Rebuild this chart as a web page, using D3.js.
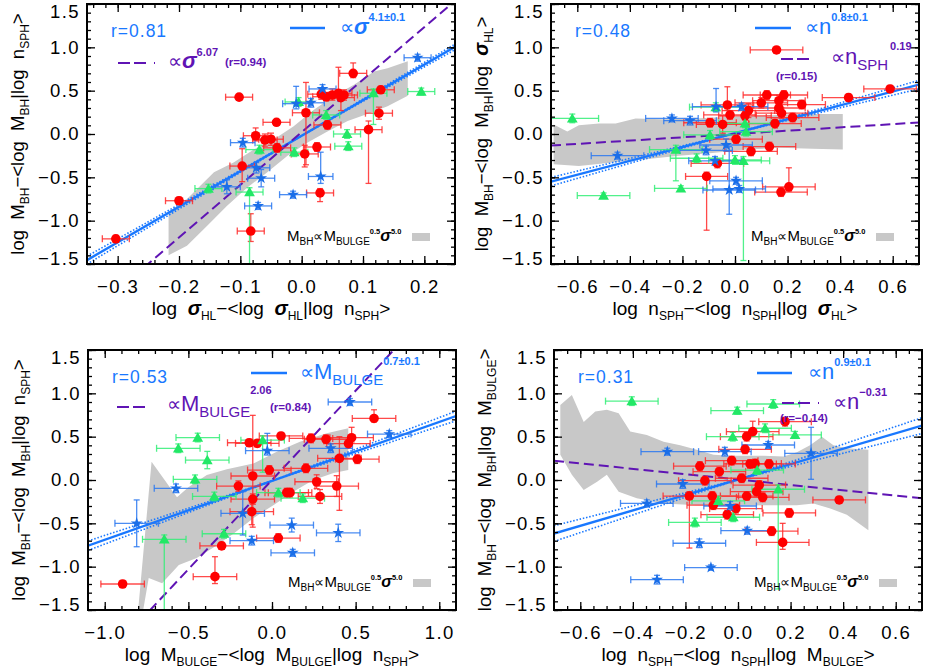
<!DOCTYPE html>
<html><head><meta charset="utf-8">
<script src="https://cdn.jsdelivr.net/npm/d3@7"></script>
<style>body{margin:0;background:#fff}svg{display:block}</style>
</head><body><svg id="c" width="926" height="670"></svg>
<script>
// ---------------- DATA ----------------
// points: [x, y, xErr, yErrLow, yErrHigh]
const p1Red = [
[-0.303,-1.21,0.022,0.04,0.04],[-0.200,-0.77,0.022,0.04,0.04],[-0.102,0.425,0.022,0.03,0.03],
[-0.041,0.135,0.022,0.03,0.03],[-0.075,-0.02,0.020,0.06,0.09],[-0.060,-0.07,0.020,0.07,0.07],
[-0.050,-0.06,0.020,0.07,0.07],[-0.040,-0.16,0.022,0.05,0.05],[-0.097,-0.37,0.020,0.18,0.20],
[-0.083,-1.12,0.022,0.12,0.20],[0.007,0.245,0.022,0.60,0.35],[0.005,-0.23,0.022,0.15,0.10],
[0.025,-0.15,0.022,0.05,0.05],[0.030,-0.68,0.022,0.10,0.05],[0.042,0.105,0.022,0.05,0.05],
[0.032,0.46,0.022,0.06,0.06],[0.040,0.43,0.022,0.05,0.05],[0.050,0.45,0.022,0.06,0.07],
[0.060,0.47,0.022,0.05,0.30],[0.064,0.42,0.022,0.15,0.07],[0.069,0.45,0.022,0.06,0.06],
[0.084,0.70,0.022,0.05,0.12],[0.129,0.51,0.022,0.04,0.04],[0.126,0.24,0.022,0.07,0.07],
[0.109,0.05,0.022,0.62,0.10]];
const p1Green = [
[-0.152,-0.63,0.022,0.05,0.05],[-0.085,-0.67,0.022,0.90,0.05],[-0.069,-0.18,0.022,0.05,0.05],
[-0.012,-0.21,0.022,0.05,0.05],[-0.005,0.37,0.022,0.05,0.05],[0.040,0.22,0.022,0.05,0.05],
[0.074,0.0,0.022,0.05,0.05],[0.076,-0.14,0.022,0.05,0.05],[0.117,0.47,0.022,0.36,0.05],
[0.195,0.49,0.022,0.04,0.04]];
const p1Blue = [
[-0.122,-0.61,0.022,0.08,0.08],[-0.096,-0.10,0.020,0.05,0.05],[-0.074,-0.39,0.022,0.06,0.06],
[-0.066,-0.51,0.022,0.10,0.10],[-0.071,-0.83,0.022,0.04,0.04],[-0.014,-0.70,0.022,0.04,0.04],
[-0.009,0.35,0.022,0.06,0.20],[0.015,0.36,0.022,0.05,0.05],[0.034,0.52,0.022,0.05,0.05],
[0.031,-0.49,0.020,0.08,0.28],[0.189,0.88,0.022,0.04,0.04]];
const p1BandUpper = [[-0.217,-0.90],[-0.187,-0.75],[-0.143,-0.44],[-0.111,-0.33],[-0.078,-0.18],[-0.045,-0.06],[-0.013,0.09],[0.02,0.28],[0.053,0.44],[0.086,0.57],[0.118,0.72],[0.14,0.76],[0.173,0.84]];
const p1BandLower = [[-0.217,-1.40],[-0.187,-1.29],[-0.154,-1.06],[-0.122,-0.83],[-0.089,-0.62],[-0.056,-0.44],[-0.023,-0.25],[0.009,-0.10],[0.042,0.03],[0.075,0.15],[0.107,0.23],[0.14,0.32],[0.173,0.44]];

const p2Red = [
[0.158,0.97,0.10,0.03,0.03],[0.590,0.52,0.10,0.04,0.04],[0.432,0.42,0.10,0.04,0.04],
[0.121,0.45,0.09,0.05,0.05],[0.186,0.45,0.09,0.05,0.05],[0.167,0.384,0.10,0.06,0.06],
[0.100,0.36,0.10,0.06,0.06],[0.254,0.34,0.09,0.05,0.05],[-0.029,0.335,0.10,0.06,0.21],
[0.167,0.30,0.10,0.06,0.06],[0.177,0.24,0.10,0.06,0.06],[0.051,0.27,0.10,0.08,0.08],
[-0.019,0.22,0.10,0.05,0.05],[0.038,0.21,0.10,0.05,0.05],[0.219,0.19,0.10,0.05,0.05],
[0.152,0.12,0.10,0.05,0.05],[-0.095,0.13,0.10,0.05,0.05],[-0.047,0.11,0.10,0.10,0.10],
[0.004,-0.06,0.10,0.05,0.05],[0.131,-0.145,0.10,0.05,0.05],[0.061,-0.20,0.10,0.05,0.05],
[-0.067,-0.34,0.10,0.05,0.05],[-0.108,-0.49,0.08,0.62,0.05],[0.175,-0.67,0.10,0.05,0.05],
[0.205,-0.61,0.10,0.05,0.22]];
const p2Green = [
[-0.619,0.18,0.10,0.05,0.05],[-0.500,-0.71,0.10,0.03,0.03],[-0.206,-0.627,0.10,0.03,0.03],
[-0.225,-0.18,0.10,0.36,0.05],[-0.146,-0.28,0.10,0.05,0.05],[-0.095,-0.01,0.10,0.05,0.05],
[-0.073,0.31,0.10,0.05,0.05],[0.0,-0.30,0.10,0.05,0.05],[0.038,0.123,0.10,0.05,0.05],
[0.042,0.027,0.10,0.05,0.05],[0.032,-0.31,0.10,1.15,0.05]];
const p2Blue = [
[-0.447,-0.25,0.10,0.04,0.04],[-0.240,0.18,0.10,0.04,0.04],[-0.171,0.154,0.10,0.05,0.05],
[-0.110,-0.19,0.10,0.05,0.05],[-0.076,-0.31,0.10,0.05,0.05],[-0.072,0.315,0.09,0.06,0.21],
[0.025,0.315,0.10,0.04,0.04],[-0.034,-0.127,0.10,0.07,0.07],[-0.022,-0.646,0.10,0.28,0.50],
[0.004,-0.54,0.10,0.04,0.04],[0.016,-0.634,0.10,0.04,0.04]];
const p2BandUpper = [[-0.69,0.11],[-0.638,0.03],[-0.594,0.10],[-0.517,0.12],[-0.454,0.12],[-0.378,0.18],[-0.276,0.17],[-0.149,0.18],[-0.022,0.20],[0.105,0.21],[0.232,0.23],[0.359,0.23],[0.41,0.23]];
const p2BandLower = [[-0.69,-0.35],[-0.594,-0.37],[-0.467,-0.33],[-0.34,-0.29],[-0.213,-0.25],[-0.086,-0.22],[0.041,-0.18],[0.168,-0.16],[0.295,-0.17],[0.41,-0.18]];

const p3Red = [
[-0.893,-1.20,0.13,0.04,0.04],[-0.341,-1.115,0.13,0.08,0.23],[-0.301,-0.76,0.13,0.04,0.04],
[-0.136,0.43,0.13,0.04,0.04],[-0.088,0.423,0.13,0.04,0.04],[0.054,0.508,0.13,0.04,0.04],
[-0.016,0.115,0.13,0.05,0.05],[-0.115,0.046,0.13,0.59,0.70],[-0.201,-0.07,0.13,0.06,0.06],
[-0.115,-0.22,0.13,0.06,0.06],[-0.121,-0.366,0.13,0.15,0.10],[0.038,-0.67,0.13,0.05,0.05],
[0.088,-0.146,0.13,0.05,0.05],[0.108,-0.146,0.13,0.05,0.05],[0.203,0.135,0.13,0.05,0.05],
[0.233,0.48,0.13,0.05,0.05],[0.323,0.47,0.13,0.05,0.05],[0.267,-0.02,0.13,0.08,0.08],
[0.287,-0.19,0.13,0.08,0.08],[0.403,0.25,0.13,0.60,0.25],[0.387,-0.07,0.13,0.12,0.12],
[0.457,0.42,0.13,0.05,0.05],[0.476,0.488,0.13,0.05,0.12],[0.51,0.24,0.13,0.05,0.05],
[0.61,0.71,0.13,0.04,0.10]];
const p3Green = [
[-0.56,0.366,0.13,0.05,0.05],[-0.444,0.49,0.13,0.05,0.05],[-0.387,0.23,0.13,0.10,0.10],
[-0.46,0.008,0.13,0.05,0.05],[-0.345,-0.19,0.13,0.05,0.05],[-0.287,-0.62,0.13,0.05,0.05],
[-0.644,-0.684,0.13,0.90,0.05],[-0.056,0.46,0.13,0.37,0.05],[0.038,-0.146,0.13,0.05,0.05],
[0.184,-0.21,0.13,0.05,0.05]];
const p3Blue = [
[-0.809,-0.50,0.13,0.27,0.27],[-0.574,-0.096,0.13,0.05,0.05],[-0.175,-0.385,0.13,0.25,0.25],
[-0.121,-0.70,0.13,0.05,0.05],[-0.028,0.338,0.13,0.05,0.20],[0.118,-0.52,0.13,0.08,0.08],
[0.124,-0.84,0.13,0.04,0.04],[0.351,0.366,0.13,0.05,0.05],[0.396,-0.61,0.13,0.10,0.10],
[0.466,0.90,0.13,0.04,0.04],[0.701,0.53,0.13,0.04,0.04]];
const p3BandUpper = [[-0.80,-1.5],[-0.72,0.21],[-0.568,-0.20],[-0.5,-0.085],[-0.39,0.058],[-0.27,0.123],[-0.112,0.19],[0.028,0.327],[0.167,0.442],[0.327,0.538],[0.456,0.596]];
const p3BandLower = [[-0.77,-1.5],[-0.737,-1.13],[-0.657,-1.19],[-0.557,-0.98],[-0.45,-0.90],[-0.35,-0.78],[-0.231,-0.62],[-0.112,-0.44],[0.008,-0.29],[0.127,-0.135],[0.247,0.0],[0.368,0.08],[0.456,0.115]];

const p4Red = [
[0.179,0.673,0.10,0.05,0.05],[0.056,0.558,0.10,0.05,0.12],[0.033,0.50,0.10,0.05,0.05],
[0.027,0.354,0.10,0.05,0.05],[-0.145,0.16,0.10,0.05,0.05],[-0.071,0.096,0.10,0.05,0.05],
[-0.024,0.223,0.10,0.05,0.05],[-0.126,-0.008,0.10,0.05,0.05],[0.014,0.02,0.10,0.05,0.05],
[0.046,0.185,0.10,0.05,0.05],[0.065,0.19,0.10,0.05,0.05],[0.118,0.185,0.10,0.05,0.05],
[-0.185,-0.185,0.10,0.60,0.05],[-0.098,-0.185,0.10,0.05,0.05],[-0.094,-0.29,0.10,0.05,0.05],
[-0.041,-0.40,0.10,0.05,0.05],[-0.008,-0.33,0.10,0.05,0.05],[0.033,-0.185,0.10,0.05,0.05],
[0.071,-0.135,0.10,0.05,0.05],[0.081,-0.058,0.10,0.05,0.05],[0.094,-0.20,0.10,0.05,0.05],
[0.128,-0.59,0.10,0.05,0.05],[0.17,-0.72,0.10,0.08,0.22],[0.195,-0.38,0.10,0.05,0.05],
[0.385,-0.23,0.10,0.04,0.04]];
const p4Green = [
[-0.404,0.91,0.10,0.05,0.05],[0.134,0.877,0.10,0.05,0.05],[-0.003,0.80,0.10,0.04,0.04],
[-0.02,0.50,0.10,0.05,0.05],[0.103,0.597,0.10,0.05,0.05],[0.217,0.52,0.10,0.04,0.04],
[0.073,0.115,0.10,0.05,0.05],[0.153,-0.107,0.10,1.15,0.05],[-0.075,-0.24,0.10,0.05,0.05],
[-0.018,-0.43,0.10,0.05,0.05],[-0.164,-0.49,0.10,0.05,0.05]];
const p4Blue = [
[-0.308,-1.15,0.10,0.05,0.05],[-0.103,-1.01,0.10,0.03,0.03],[-0.147,-0.73,0.10,0.05,0.05],
[0.035,-0.585,0.10,0.04,0.04],[-0.03,-0.30,0.10,0.05,0.05],[-0.21,-0.046,0.10,0.05,0.05],
[-0.347,-0.27,0.10,0.04,0.04],[-0.269,0.327,0.10,0.04,0.04],[-0.05,0.327,0.10,0.05,0.05],
[0.115,0.404,0.10,0.04,0.04],[0.278,0.308,0.10,0.30,0.30]];
const p4BandUpper = [[-0.676,0.865],[-0.632,0.98],[-0.587,0.67],[-0.543,0.79],[-0.499,0.81],[-0.454,0.77],[-0.41,0.56],[-0.347,0.52],[-0.283,0.44],[-0.22,0.40],[-0.157,0.35],[-0.093,0.29],[-0.03,0.28],[0.097,0.28],[0.173,0.27],[0.224,0.32],[0.274,0.40],[0.319,0.50],[0.363,0.40],[0.414,0.365],[0.496,0.35]];
const p4BandLower = [[-0.676,0.29],[-0.632,0.06],[-0.587,-0.115],[-0.536,-0.02],[-0.499,0.06],[-0.454,-0.135],[-0.385,-0.21],[-0.283,-0.27],[-0.157,-0.29],[-0.03,-0.30],[0.097,-0.29],[0.224,-0.29],[0.287,-0.27],[0.351,-0.33],[0.414,-0.40],[0.496,-0.58]];

// fits
const fitSlope = [4.1, 0.8, 0.68, 0.89];
const fitIntercept = [-0.02, 0.01, -0.01, 0.005];
const fitSlopeErr = [0.13, 0.07, 0.05, 0.13];
const altSlope = [6.07, 0.19, 2.06, -0.31];
const altIntercept = [0.02, 0.0, 0.0, 0.005];
const rValues = ["r=0.81", "r=0.48", "r=0.53", "r=0.31"];

// axes
const xDomains = [[-0.35,0.25],[-0.7,0.7],[-1.1,1.1],[-0.7,0.7]];
const xMajorTicks = [[-0.3,-0.2,-0.1,0,0.1,0.2],[-0.6,-0.4,-0.2,0,0.2,0.4,0.6],[-1,-0.5,0,0.5,1],[-0.6,-0.4,-0.2,0,0.2,0.4,0.6]];
const xMinorStep = [0.02, 0.05, 0.1, 0.05];
const yDomain = [-1.5, 1.5];
const yMajorTicks = [-1.5,-1,-0.5,0,0.5,1,1.5];

// ---------------- LAYOUT / STYLE ----------------
const panelLeft = [87, 551, 88, 554], panelTop = [4, 4, 350, 350], PW = 368, PH = 260;
const FONT = "'Liberation Sans', Arial, Helvetica, sans-serif";
const BLUE = "rgb(25,120,255)", PURPLE = "rgb(95,20,180)";
const RED = "#ff0000", GREEN = "#22e866", STARBLUE = "#1a6ee8";
const BAND = "#c8c8c8";

const svg = d3.select("#c");
svg.append("rect").attr("width",926).attr("height",670).attr("fill","#fff");

function rich(parent, x, y, parts, fill, extra) {
  const t = parent.append("text").attr("x", x).attr("y", y).attr("fill", fill || "#000")
    .attr("font-family", FONT);
  if (extra) extra(t);
  let cur = 0;
  parts.forEach(p => {
    const off = p.o || 0;
    const ts = t.append("tspan").text(p.t).attr("font-size", p.s).attr("dy", off - cur);
    if (p.i) ts.attr("font-style", "italic");
    if (p.b) ts.attr("font-weight", "bold");
    if (p.dx) ts.attr("dx", p.dx);
    cur = off;
  });
  return t;
}

const yTitles = [
 [["log M",""],["BH","s"],["−<log M",""],["BH","s"],["|log n",""],["SPH","s"],[">",""]],
 [["log M",""],["BH","s"],["−<log M",""],["BH","s"],["|log ",""],["σ","g"],["HL","s"],[">",""]],
 [["log M",""],["BH","s"],["−<log M",""],["BH","s"],["|log n",""],["SPH","s"],[">",""]],
 [["log M",""],["BH","s"],["−<log M",""],["BH","s"],["|log M",""],["BULGE","s"],[">",""]]
];
const xTitles = [
 [["log ",""],["σ","g"],["HL","s"],["−<log ",""],["σ","g"],["HL","s"],["|log n",""],["SPH","s"],[">",""]],
 [["log n",""],["SPH","s"],["−<log n",""],["SPH","s"],["|log ",""],["σ","g"],["HL","s"],[">",""]],
 [["log M",""],["BULGE","s"],["−<log M",""],["BULGE","s"],["|log n",""],["SPH","s"],[">",""]],
 [["log n",""],["SPH","s"],["−<log n",""],["SPH","s"],["|log M",""],["BULGE","s"],[">",""]]
];
function titleParts(arr, sz) {
  return arr.map(([t, k]) => k === "s" ? {t, s: 12, o: 5} : k === "g" ? {t, s: sz + 1, i: true, b: true} : {t: t.replace(/ /g, "\u00a0\u00a0"), s: sz});
}

const groups = [
  [p1Red, p1Green, p1Blue, p1BandUpper, p1BandLower],
  [p2Red, p2Green, p2Blue, p2BandUpper, p2BandLower],
  [p3Red, p3Green, p3Blue, p3BandUpper, p3BandLower],
  [p4Red, p4Green, p4Blue, p4BandUpper, p4BandLower]
];

groups.forEach((grp, i) => {
  const [red, green, blue, bu, bl] = grp;
  const L = panelLeft[i], T = panelTop[i];
  const g = svg.append("g").attr("transform", `translate(${L},${T})`);
  const x = d3.scaleLinear().domain(xDomains[i]).range([0, PW]);
  const y = d3.scaleLinear().domain(yDomain).range([PH, 0]);

  svg.append("clipPath").attr("id", "clip" + i).append("rect").attr("width", PW).attr("height", PH);
  const plot = g.append("g").attr("clip-path", `url(#clip${i})`);

  // band
  const poly = bu.concat(bl.slice().reverse());
  plot.append("path").attr("d", d3.line().x(d => x(d[0])).y(d => y(d[1]))(poly) + "Z")
    .attr("fill", BAND).attr("stroke", "none");

  // fit lines
  const xs = xDomains[i];
  const line = d3.line().x(d => x(d[0])).y(d => y(d[1]));
  [fitSlope[i] - fitSlopeErr[i], fitSlope[i] + fitSlopeErr[i]].forEach(s => {
    plot.append("path").attr("d", line(xs.map(v => [v, s * v + fitIntercept[i]])))
      .attr("stroke", BLUE).attr("stroke-width", 1.6).attr("stroke-dasharray", "1.5,1.8").attr("fill", "none");
  });
  plot.append("path").attr("d", line(xs.map(v => [v, fitSlope[i] * v + fitIntercept[i]])))
    .attr("stroke", BLUE).attr("stroke-width", 2.4).attr("fill", "none");
  plot.append("path").attr("d", line(xs.map(v => [v, altSlope[i] * v + altIntercept[i]])))
    .attr("stroke", PURPLE).attr("stroke-width", 2).attr("stroke-dasharray", "10,5").attr("fill", "none");

  // error bars + markers
  const sets = [
    {d: red, c: "#ff2a2a", sym: "circle", fill: RED},
    {d: green, c: "#33ee77", sym: d3.symbolTriangle, fill: GREEN},
    {d: blue, c: "#2a78f0", sym: d3.symbolStar, fill: STARBLUE}
  ];
  sets.forEach(st => {
    const eg = plot.append("g").attr("stroke", st.c).attr("stroke-width", 1.3).attr("stroke-opacity", 0.85).attr("fill", "none");
    st.d.forEach(p => {
      const [px, py, ex, el, eh] = p;
      const cx = x(px), cy = y(py);
      const x0 = x(px - ex), x1 = x(px + ex), y0 = y(py - el), y1 = y(py + eh);
      eg.append("line").attr("x1", x0).attr("x2", x1).attr("y1", cy).attr("y2", cy);
      eg.append("line").attr("x1", x0).attr("x2", x0).attr("y1", cy - 3.5).attr("y2", cy + 3.5);
      eg.append("line").attr("x1", x1).attr("x2", x1).attr("y1", cy - 3.5).attr("y2", cy + 3.5);
      eg.append("line").attr("x1", cx).attr("x2", cx).attr("y1", y0).attr("y2", y1);
      eg.append("line").attr("x1", cx - 3).attr("x2", cx + 3).attr("y1", y0).attr("y2", y0);
      eg.append("line").attr("x1", cx - 3).attr("x2", cx + 3).attr("y1", y1).attr("y2", y1);
    });
  });
  sets.forEach(st => {
    st.d.forEach(p => {
      const cx = x(p[0]), cy = y(p[1]);
      if (st.sym === "circle") {
        plot.append("circle").attr("cx", cx).attr("cy", cy).attr("r", 4.8).attr("fill", st.fill);
      } else {
        const sz = st.sym === d3.symbolStar ? 44 : 50;
        plot.append("path").attr("d", d3.symbol().type(st.sym).size(sz)())
          .attr("transform", `translate(${cx},${cy + (st.sym === d3.symbolTriangle ? 1 : 0)})`).attr("fill", st.fill);
      }
    });
  });

  // axes
  const fmt = d3.format(".1f");
  const xMinor = d3.range(xDomains[i][0], xDomains[i][1] + 1e-9, xMinorStep[i]).map(v => Math.round(v / xMinorStep[i]) * xMinorStep[i]).filter(v => v > xDomains[i][0] + 1e-9 && v < xDomains[i][1] - 1e-9);
  const yMinor = d3.range(-1.5, 1.5001, 0.1).map(v => Math.round(v * 10) / 10);
  const styleAx = a => { a.select(".domain").remove(); a.selectAll("line").attr("stroke", "#000").attr("stroke-width", 1.3); a.selectAll("text").attr("font-family", FONT).attr("font-size", 18.5).attr("letter-spacing", 1.4).attr("fill", "#000"); };

  g.append("g").attr("transform", `translate(0,${PH})`).call(d3.axisBottom(x).tickValues(xMinor).tickSize(-4).tickFormat("")).call(styleAx);
  g.append("g").call(d3.axisTop(x).tickValues(xMinor).tickSize(-4).tickFormat("")).call(styleAx);
  g.append("g").attr("transform", `translate(0,${PH})`).call(d3.axisBottom(x).tickValues(xMajorTicks[i]).tickSize(-8).tickPadding(16).tickFormat(fmt)).call(styleAx);
  g.append("g").call(d3.axisTop(x).tickValues(xMajorTicks[i]).tickSize(-8).tickFormat("")).call(styleAx);
  g.append("g").call(d3.axisLeft(y).tickValues(yMinor).tickSize(-4).tickFormat("")).call(styleAx);
  g.append("g").attr("transform", `translate(${PW},0)`).call(d3.axisRight(y).tickValues(yMinor).tickSize(-4).tickFormat("")).call(styleAx);
  const yl = g.append("g").call(d3.axisLeft(y).tickValues(yMajorTicks).tickSize(-8).tickPadding(7).tickFormat(fmt)).call(styleAx);
  yl.selectAll(".tick text").filter(d => d === 1.5).attr("transform", "translate(0,8)");
  yl.selectAll(".tick text").filter(d => d === -1.5).attr("transform", "translate(0,-5)");
  g.append("g").attr("transform", `translate(${PW},0)`).call(d3.axisRight(y).tickValues(yMajorTicks).tickSize(-8).tickFormat("")).call(styleAx);

  g.append("rect").attr("width", PW).attr("height", PH).attr("fill", "none").attr("stroke", "#000").attr("stroke-width", 2);

  // titles
  rich(g, PW / 2, PH + 51, titleParts(xTitles[i], 19), "#000", t => t.attr("text-anchor", "middle"));
  rich(g, 0, 0, titleParts(yTitles[i], 18.5), "#000", t => t.attr("text-anchor", "middle").attr("transform", `translate(-63,${PH / 2}) rotate(-90)`));

  // legend: r value
  g.append("text").attr("x", 24).attr("y", 33).attr("fill", BLUE).attr("font-family", FONT).attr("font-size", 17.5).attr("letter-spacing", 1).text(rValues[i]);

  // gray band legend
  rich(g, 200, 237, [{t:"M",s:15},{t:"BH",s:10,o:4},{t:"∝",s:14,o:0},{t:"M",s:15},{t:"BULGE",s:10,o:4},{t:"0.5",s:7.5,b:true,o:-7},{t:"σ",s:16,i:true,b:true,o:0},{t:"5.0",s:7.5,b:true,o:-7}], "#000");
  g.append("rect").attr("x", 325).attr("y", 229).attr("width", 18).attr("height", 8).attr("fill", BAND);
});

// ---------- per-panel fit legends ----------
function legLine(i, x1, x2, yy, dashed) {
  const g = svg.append("g").attr("transform", `translate(${panelLeft[i]},${panelTop[i]})`);
  const l = g.append("line").attr("x1", x1).attr("x2", x2).attr("y1", yy).attr("y2", yy)
    .attr("stroke", dashed ? PURPLE : BLUE).attr("stroke-width", dashed ? 2 : 2.4);
  if (dashed) l.attr("stroke-dasharray", "12,4,12,8,2,50");
  return g;
}
// panel 1
let g1 = legLine(0, 203, 238, 24, false);
rich(g1, 253, 30, [{t:"∝",s:20},{t:"σ",s:22,i:true,b:true},{t:"4.1±0.1",s:11,b:true,o:-13}], BLUE);
let g1b = legLine(0, 31, 68, 59, true);
rich(g1b, 81, 64, [{t:"∝",s:20},{t:"σ",s:22,i:true,b:true},{t:"6.07",s:11,b:true,o:-12}], PURPLE);
g1b.append("text").attr("x", 138).attr("y", 62).attr("fill", PURPLE).attr("font-family", FONT).attr("font-size", 11.5).attr("font-weight", "bold").text("(r=0.94)");
// panel 2
let g2 = legLine(1, 204, 240, 24, false);
rich(g2, 254, 30, [{t:"∝",s:20},{t:"n",s:22},{t:"0.8±0.1",s:11,b:true,o:-13}], BLUE);
let g2b = legLine(1, 230, 265, 55, true);
rich(g2b, 280, 60, [{t:"∝",s:20},{t:"n",s:22},{t:"SPH",s:15,o:6},{t:"0.19",s:11,b:true,o:-14,dx:2}], PURPLE);
g2b.append("text").attr("x", 225).attr("y", 76).attr("fill", PURPLE).attr("font-family", FONT).attr("font-size", 11.5).attr("font-weight", "bold").text("(r=0.15)");
// panel 3
let g3 = legLine(2, 163, 199, 23, false);
rich(g3, 212, 29, [{t:"∝",s:20},{t:"M",s:22},{t:"BULGE",s:15,o:6},{t:"0.7±0.1",s:11,b:true,o:-14}], BLUE);
let g3b = legLine(2, 29, 65, 57, true);
rich(g3b, 79, 61, [{t:"∝",s:20},{t:"M",s:22},{t:"BULGE",s:15,o:6},{t:"2.06",s:11,b:true,o:-17}], PURPLE);
g3b.append("text").attr("x", 182).attr("y", 61).attr("fill", PURPLE).attr("font-family", FONT).attr("font-size", 11.5).attr("font-weight", "bold").text("(r=0.84)");
// panel 4
let g4 = legLine(3, 203, 238, 23, false);
rich(g4, 254, 29, [{t:"∝",s:20},{t:"n",s:22},{t:"0.9±0.1",s:11,b:true,o:-13}], BLUE);
let g4b = legLine(3, 228, 265, 53, true);
rich(g4b, 279, 59, [{t:"∝",s:20},{t:"n",s:22},{t:"−0.31",s:11,b:true,o:-13}], PURPLE);
g4b.append("text").attr("x", 226).attr("y", 72).attr("fill", PURPLE).attr("font-family", FONT).attr("font-size", 11.5).attr("font-weight", "bold").text("(r=−0.14)");
</script></body></html>
